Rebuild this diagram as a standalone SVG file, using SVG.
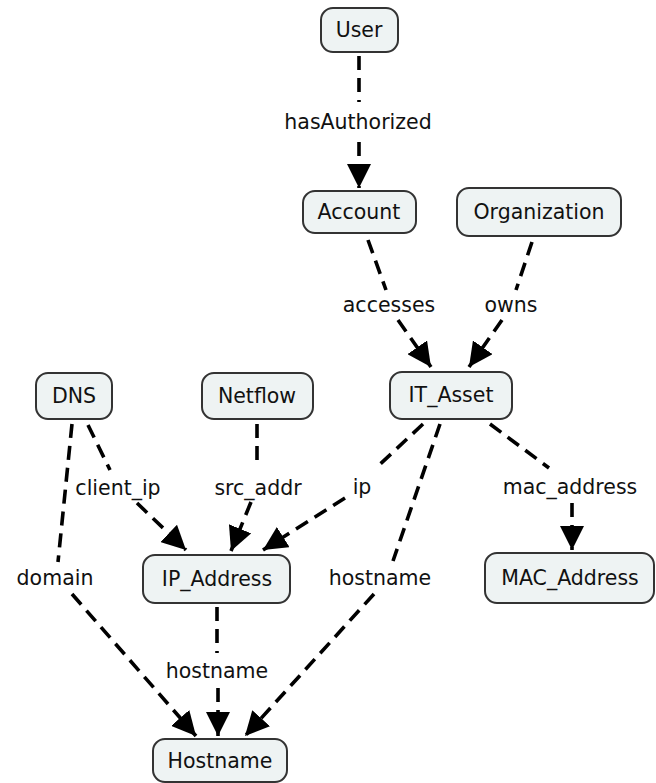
<svg xmlns="http://www.w3.org/2000/svg" width="656" height="783" viewBox="0 0 656 783">
<style>
.node rect{fill:#eef3f3;stroke:#333;stroke-width:2}
text{font-family:"DejaVu Sans",Verdana,sans-serif;font-size:20.5px;fill:#111;text-anchor:middle}
.edge path{fill:none;stroke:#000;stroke-width:3.6;stroke-dasharray:14 8}
</style>
<defs>
<marker id="ah" markerUnits="userSpaceOnUse" markerWidth="24" markerHeight="24" viewBox="0 0 10 10" refX="10" refY="5" orient="auto">
<path d="M0,0 L10,5 L0,10 z" fill="#000"/>
</marker>
</defs>
<rect width="656" height="783" fill="#fff"/>
<g id="connectors" class="edge">
<path d="M359,56 L359,102"/><path d="M359,142 L359,188" marker-end="url(#ah)"/>
<path d="M368,240 L386,290"/><path d="M398,320 L431,367" marker-end="url(#ah)"/>
<path d="M532,242 L516,290"/><path d="M502,320 L469,367" marker-end="url(#ah)"/>
<path d="M72,424 L58,562"/><path d="M72,594 L196,736" marker-end="url(#ah)"/>
<path d="M88,425 L110,470"/><path d="M137,503 L186,550" marker-end="url(#ah)"/>
<path d="M257,424 L257,467"/><path d="M251,502 L231,551" marker-end="url(#ah)"/>
<path d="M423,424 L376,468"/><path d="M345,498 L263,550" marker-end="url(#ah)"/>
<path d="M440,424 L393,561"/><path d="M374,594 L245,736" marker-end="url(#ah)"/>
<path d="M490,424 L549,468"/><path d="M572,503 L572,550" marker-end="url(#ah)"/>
<path d="M217,607 L217,653"/><path d="M218,688 L218,736" marker-end="url(#ah)"/>
</g>
<g id="labels">
<text x="358" y="129">hasAuthorized</text>
<text x="389" y="312">accesses</text>
<text x="511" y="312">owns</text>
<text x="118" y="495">client_ip</text>
<text x="258" y="495">src_addr</text>
<text x="362" y="494">ip</text>
<text x="570" y="494">mac_address</text>
<text x="55" y="585">domain</text>
<text x="380" y="585">hostname</text>
<text x="217" y="678">hostname</text>
</g>
<g id="User" class="node"><rect x="321" y="8" width="77" height="44" rx="12"/><text x="359" y="37">User</text></g>
<g id="Account" class="node"><rect x="303" y="191" width="113" height="42" rx="12"/><text x="359" y="219">Account</text></g>
<g id="Organization" class="node"><rect x="457" y="188" width="164" height="48" rx="12"/><text x="539" y="219">Organization</text></g>
<g id="DNS" class="node"><rect x="36" y="373" width="76" height="46" rx="12"/><text x="74" y="403">DNS</text></g>
<g id="Netflow" class="node"><rect x="202" y="373" width="111" height="46" rx="12"/><text x="257" y="403">Netflow</text></g>
<g id="IT_Asset" class="node"><rect x="390" y="372" width="122" height="47" rx="12"/><text x="451" y="402">IT_Asset</text></g>
<g id="IP_Address" class="node"><rect x="143" y="555" width="147" height="48" rx="12"/><text x="217" y="586">IP_Address</text></g>
<g id="MAC_Address" class="node"><rect x="485" y="553" width="169" height="50" rx="12"/><text x="570" y="585">MAC_Address</text></g>
<g id="Hostname" class="node"><rect x="153" y="739" width="134" height="43" rx="12"/><text x="220" y="768">Hostname</text></g>
</svg>
